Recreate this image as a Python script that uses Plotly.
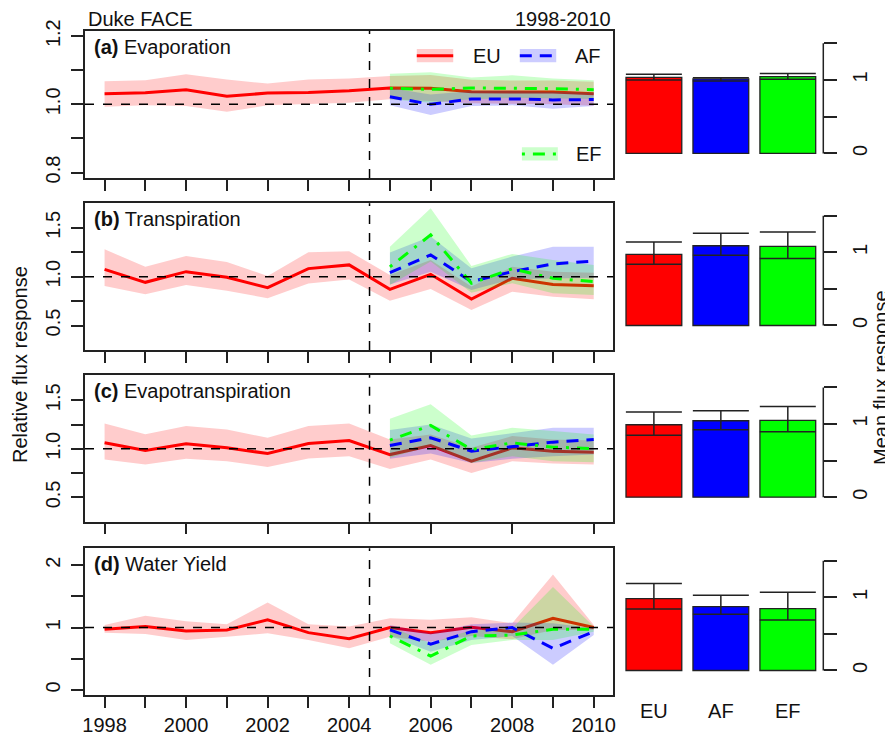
import plotly.graph_objects as go

# ---------------- data ----------------
years = [1998, 1999, 2000, 2001, 2002, 2003, 2004, 2005, 2006, 2007, 2008, 2009, 2010]
years_post = [2005, 2006, 2007, 2008, 2009, 2010]
year_labels = ["1998", "", "2000", "", "2002", "", "2004", "", "2006", "", "2008", "", "2010"]

panel_titles = ["(a)", "(b)", "(c)", "(d)"]
panel_names = ["Evaporation", "Transpiration", "Evapotranspiration", "Water Yield"]
treatments = ["EU", "AF", "EF"]

# (a) Evaporation
a_eu = [1.031, 1.034, 1.043, 1.024, 1.033, 1.035, 1.040, 1.048, 1.047, 1.037, 1.036, 1.036, 1.031]
a_eu_hi = [1.068, 1.071, 1.088, 1.073, 1.061, 1.073, 1.076, 1.083, 1.086, 1.072, 1.070, 1.070, 1.066]
a_eu_lo = [0.993, 0.997, 0.995, 0.978, 0.997, 1.000, 1.005, 1.015, 1.010, 1.003, 1.002, 1.000, 0.996]
a_af = [1.022, 1.000, 1.016, 1.016, 1.013, 1.014]
a_af_hi = [1.048, 1.029, 1.039, 1.039, 1.036, 1.034]
a_af_lo = [0.997, 0.969, 0.995, 0.997, 0.987, 0.995]
a_ef = [1.047, 1.044, 1.048, 1.048, 1.046, 1.043]
a_ef_hi = [1.090, 1.094, 1.079, 1.085, 1.076, 1.071]
a_ef_lo = [1.015, 1.005, 1.015, 1.019, 1.017, 1.016]

# (b) Transpiration
b_eu = [1.075, 0.942, 1.051, 0.993, 0.887, 1.082, 1.120, 0.870, 1.024, 0.771, 0.983, 0.920, 0.908]
b_eu_hi = [1.28, 1.10, 1.21, 1.15, 1.007, 1.25, 1.26, 1.017, 1.17, 0.90, 1.10, 1.05, 1.04]
b_eu_lo = [0.905, 0.82, 0.915, 0.857, 0.78, 0.93, 0.97, 0.754, 0.874, 0.659, 0.846, 0.795, 0.768]
b_af = [1.041, 1.222, 0.949, 1.051, 1.13, 1.16]
b_af_hi = [1.246, 1.41, 1.085, 1.205, 1.307, 1.307]
b_af_lo = [0.92, 1.05, 0.863, 0.973, 0.983, 0.99]
b_ef = [1.10, 1.427, 0.932, 1.08, 0.983, 0.949]
b_ef_hi = [1.307, 1.70, 1.11, 1.232, 1.17, 1.12]
b_ef_lo = [0.915, 1.154, 0.836, 0.932, 0.83, 0.812]

# (c) Evapotranspiration
c_eu = [1.062, 0.983, 1.052, 1.01, 0.952, 1.055, 1.086, 0.941, 1.034, 0.872, 1.01, 0.976, 0.966]
c_eu_hi = [1.26, 1.15, 1.234, 1.2, 1.114, 1.234, 1.262, 1.097, 1.148, 1.01, 1.131, 1.097, 1.086]
c_eu_lo = [0.89, 0.838, 0.897, 0.872, 0.814, 0.9, 0.924, 0.793, 0.89, 0.752, 0.872, 0.848, 0.838]
c_af = [1.034, 1.114, 0.976, 1.021, 1.069, 1.097]
c_af_hi = [1.193, 1.25, 1.107, 1.159, 1.217, 1.217]
c_af_lo = [0.897, 0.952, 0.855, 0.897, 0.924, 0.941]
c_ef = [1.09, 1.241, 0.993, 1.062, 1.017, 1.003]
c_ef_hi = [1.31, 1.459, 1.138, 1.217, 1.183, 1.148]
c_ef_lo = [0.907, 1.028, 0.855, 0.924, 0.872, 0.862]

# (d) Water Yield
d_eu = [0.973, 1.016, 0.946, 0.962, 1.124, 0.919, 0.823, 1.0, 0.919, 1.005, 0.935, 1.15, 1.0]
d_eu_hi = [1.04, 1.19, 1.1, 1.054, 1.40, 1.054, 1.016, 1.15, 1.124, 1.167, 1.07, 1.85, 1.04]
d_eu_lo = [0.919, 0.898, 0.801, 0.855, 0.909, 0.801, 0.667, 0.855, 0.774, 0.866, 0.812, 0.962, 0.962]
d_af = [0.962, 0.736, 0.935, 1.0, 0.667, 0.935]
d_af_hi = [1.043, 0.909, 1.054, 1.08, 1.07, 0.99]
d_af_lo = [0.866, 0.613, 0.801, 0.866, 0.403, 0.88]
d_ef = [0.866, 0.543, 0.866, 0.88, 0.973, 0.973]
d_ef_hi = [1.016, 0.747, 0.962, 0.99, 1.65, 1.016]
d_ef_lo = [0.747, 0.403, 0.72, 0.801, 0.801, 0.935]

# mean flux response bars (EU, AF, EF) with error limits
bar_a = [1.036, 1.014, 1.045]
bar_a_hi = [1.077, 1.030, 1.086]
bar_a_lo = [1.000, 0.986, 1.009]
bar_b = [0.973, 1.09, 1.08]
bar_b_hi = [1.14, 1.26, 1.277]
bar_b_lo = [0.836, 0.96, 0.914]
bar_c = [0.99, 1.045, 1.05]
bar_c_hi = [1.164, 1.18, 1.24]
bar_c_lo = [0.845, 0.923, 0.895]
bar_d = [0.982, 0.873, 0.845]
bar_d_hi = [1.19, 1.03, 1.068]
bar_d_lo = [0.84, 0.768, 0.69]

# y ticks per panel
yticks_a = [0.8, 0.9, 1.0, 1.1, 1.2]
ylabels_a = ["0.8", "", "1.0", "", "1.2"]
yticks_bc = [0.5, 0.75, 1.0, 1.25, 1.5]
ylabels_bc = ["0.5", "", "1.0", "", "1.5"]
yticks_d = [0, 0.5, 1, 1.5, 2]
ylabels_d = ["0", "", "1", "", "2"]
bar_ticks = [0, 0.5, 1, 1.5]
bar_ticklabels = ["0", "", "1", ""]

# ---------------- layout geometry ----------------
# the page body has an 8px margin, so the figure is drawn 8px smaller and
# every page position p maps to figure position p - OFF
OFF = 8
W, H = 893 - OFF, 737 - OFF
FONT = "Liberation Sans, Arial, sans-serif"
FS = 20
AX = "#222222"
TXT = "#111111"


def fx(p):
    return (p - OFF) / W


def fy(p):
    return 1 - (p - OFF) / H


rows_px = [(30.7, 178.0), (203.3, 350.0), (375.0, 521.7), (548.3, 695.0)]
left_dom = [fx(85), fx(613.3)]
bar_dom = [fx(618.4), fx(823.3)]
yranges = [[0.784, 1.216], [0.25, 1.75], [0.25, 1.76], [-0.08, 2.27]]
bar_range = [-0.335, 1.67]

COL = {"EU": "#FF0000", "AF": "#0000FF", "EF": "#00FF00"}
FILL = {"EU": "rgba(255,0,0,0.2)", "AF": "rgba(0,0,255,0.2)", "EF": "rgba(0,255,0,0.2)"}
DASH = {"EU": "solid", "AF": "12px,8px", "EF": "3px,8px,12px,8px"}

panels = [
    (a_eu, a_eu_hi, a_eu_lo, a_af, a_af_hi, a_af_lo, a_ef, a_ef_hi, a_ef_lo),
    (b_eu, b_eu_hi, b_eu_lo, b_af, b_af_hi, b_af_lo, b_ef, b_ef_hi, b_ef_lo),
    (c_eu, c_eu_hi, c_eu_lo, c_af, c_af_hi, c_af_lo, c_ef, c_ef_hi, c_ef_lo),
    (d_eu, d_eu_hi, d_eu_lo, d_af, d_af_hi, d_af_lo, d_ef, d_ef_hi, d_ef_lo),
]
bars = [
    (bar_a, bar_a_hi, bar_a_lo),
    (bar_b, bar_b_hi, bar_b_lo),
    (bar_c, bar_c_hi, bar_c_lo),
    (bar_d, bar_d_hi, bar_d_lo),
]
yt = [(yticks_a, ylabels_a), (yticks_bc, ylabels_bc), (yticks_bc, ylabels_bc), (yticks_d, ylabels_d)]

fig = go.Figure()


def ax(letter, n):
    return letter if n == 1 else f"{letter}{n}"


def band(x, hi, lo, key, xa, ya):
    fig.add_trace(go.Scatter(
        x=list(x) + list(x)[::-1], y=list(hi) + list(lo)[::-1],
        fill="toself", fillcolor=FILL[key], line=dict(width=0),
        mode="lines", hoverinfo="skip", showlegend=False, xaxis=xa, yaxis=ya))


def line(x, y, key, xa, ya):
    fig.add_trace(go.Scatter(
        x=x, y=y, mode="lines", line=dict(color=COL[key], width=3, dash=DASH[key]),
        showlegend=False, xaxis=xa, yaxis=ya))


layout = dict(
    width=W, height=H, margin=dict(l=0, r=0, t=0, b=0, pad=0, autoexpand=False),
    paper_bgcolor="white", plot_bgcolor="white",
    font=dict(family=FONT, size=FS, color=TXT),
    showlegend=False,
)
shapes = []
annotations = []

for i in range(4):
    top, bot = rows_px[i]
    ydom = [fy(bot), fy(top)]
    n = i + 1
    nb = i + 5
    xa, ya = ax("x", n), ax("y", n)
    xb, yb = ax("x", nb), ax("y", nb)
    xkey, ykey = "xaxis" + ("" if n == 1 else str(n)), "yaxis" + ("" if n == 1 else str(n))
    eu, eu_hi, eu_lo, af, af_hi, af_lo, ef, ef_hi, ef_lo = panels[i]

    band(years, eu_hi, eu_lo, "EU", xa, ya)
    line(years, eu, "EU", xa, ya)
    band(years_post, af_hi, af_lo, "AF", xa, ya)
    band(years_post, ef_hi, ef_lo, "EF", xa, ya)
    line(years_post, af, "AF", xa, ya)
    line(years_post, ef, "EF", xa, ya)

    if i == 2:
        xtv = years[::2]
        xtt = [""] * len(xtv)
    else:
        xtv = years
        xtt = year_labels if i == 3 else [""] * len(years)

    layout[xkey] = dict(
        domain=left_dom, anchor=ya, range=[1997.52, 2010.48], automargin=False,
        showline=True, mirror=True, linecolor=AX, linewidth=1.5,
        ticks="outside", ticklen=11, tickwidth=1.5, tickcolor=AX,
        tickvals=xtv, ticktext=xtt, showgrid=False, zeroline=False,
        tickfont=dict(size=FS, color=TXT), ticklabelstandoff=0,
    )
    layout[ykey] = dict(
        domain=ydom, anchor=xa, range=yranges[i], automargin=False,
        showline=True, mirror=True, linecolor=AX, linewidth=1.5,
        ticks="outside", ticklen=12, tickwidth=1.5, tickcolor=AX,
        tickvals=yt[i][0], ticktext=yt[i][1], tickangle=-90,
        showgrid=False, zeroline=False, tickfont=dict(size=FS, color=TXT),
        ticklabelstandoff=3,
    )

    # reference lines
    shapes.append(dict(type="line", xref=f"{xa} domain", x0=0, x1=1, yref=ya, y0=1, y1=1,
                       line=dict(color="black", width=1.5, dash="dash")))
    shapes.append(dict(type="line", xref=xa, x0=2004.5, x1=2004.5, yref=f"{ya} domain", y0=0, y1=1,
                       line=dict(color="black", width=1.5, dash="dash")))

    annotations.append(dict(
        xref=f"{xa} domain", yref=f"{ya} domain", x=0, y=1, xanchor="left", yanchor="top",
        xshift=7, yshift=-3, showarrow=False,
        text=f"<b>{panel_titles[i]}</b> {panel_names[i]}", font=dict(size=FS, color=TXT)))

    # bar panel
    m, hi, lo = bars[i]
    fig.add_trace(go.Bar(
        x=treatments, y=m, marker=dict(color=[COL[k] for k in treatments],
                                       line=dict(color="#222", width=1.3)),
        error_y=dict(type="data", array=[h - v for h, v in zip(hi, m)],
                     arrayminus=[v - l for v, l in zip(m, lo)],
                     color="#222", thickness=1.5, width=28),
        xaxis=xb, yaxis=yb, showlegend=False))

    layout[f"xaxis{nb}"] = dict(
        domain=bar_dom, anchor=yb, type="category", categoryorder="array",
        categoryarray=treatments, range=[-0.53, 2.53], showline=False, ticks="",
        automargin=False,
        showticklabels=(i == 3), showgrid=False, zeroline=False,
        tickfont=dict(size=FS, color=TXT), ticklabelstandoff=2,
    )
    layout[f"yaxis{nb}"] = dict(
        domain=ydom, anchor=xb, side="right", range=bar_range, automargin=False,
        showline=False, ticks="outside", ticklen=13, tickwidth=1.5, tickcolor=AX,
        tickvals=bar_ticks, ticktext=bar_ticklabels, tickangle=-90,
        showgrid=False, zeroline=False, tickfont=dict(size=FS, color=TXT), ticklabelstandoff=6,
    )
    shapes.append(dict(type="line", xref=f"{xb} domain", x0=1, x1=1, yref=yb, y0=0, y1=1.5,
                       line=dict(color=AX, width=1.5)))

layout["bargap"] = 0.167

# legend inside panel (a)
leg = [("EU", 0.628, 0.697, 0.8305, 0.761), ("AF", 0.823, 0.892, 0.8305, 0.952),
       ("EF", 0.827, 0.895, 0.163, 0.954)]
for key, x0, x1, yc, xt in leg:
    shapes.append(dict(type="rect", xref="x domain", yref="y domain", x0=x0, x1=x1,
                       y0=yc - 0.045, y1=yc + 0.045, fillcolor=FILL[key], line=dict(width=0)))
    shapes.append(dict(type="line", xref="x domain", yref="y domain", x0=x0, x1=x1,
                       y0=yc, y1=yc, line=dict(color=COL[key], width=3, dash=DASH[key])))
    annotations.append(dict(xref="x domain", yref="y domain", x=xt, y=yc, showarrow=False,
                            text=key, font=dict(size=FS, color=TXT), xanchor="center", yanchor="middle"))

annotations += [
    dict(xref="paper", yref="paper", x=fx(86), y=fy(19), xanchor="left", yanchor="middle",
         text="Duke FACE", showarrow=False, font=dict(size=FS, color=TXT)),
    dict(xref="paper", yref="paper", x=fx(613), y=fy(19), xanchor="right", yanchor="middle",
         text="1998-2010", showarrow=False, font=dict(size=FS, color=TXT)),
    dict(xref="paper", yref="paper", x=fx(20), y=fy(365), xanchor="center", yanchor="middle",
         text="Relative flux response", textangle=-90, showarrow=False, font=dict(size=FS, color=TXT)),
    dict(xref="paper", yref="paper", x=fx(881), y=fy(378), xanchor="center", yanchor="middle",
         text="Mean flux response", textangle=-90, showarrow=False, font=dict(size=FS, color=TXT)),
]

layout["shapes"] = shapes
layout["annotations"] = annotations
fig.update_layout(**layout)
fig.write_html("out.html")
